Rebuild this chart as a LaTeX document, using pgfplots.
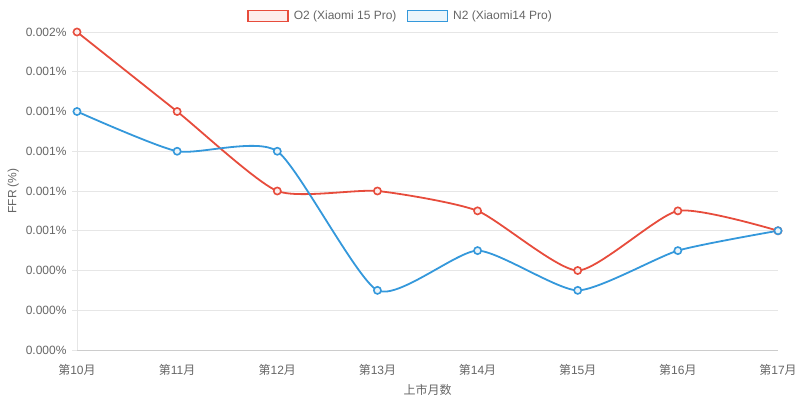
\documentclass[border=0pt]{standalone}
\usepackage{pgfplots}
\pgfplotsset{compat=1.18}
\usepackage{fontspec}
\setmainfont{Liberation Sans}
\newfontfamily\cjk{Noto Sans CJK SC}
\definecolor{txt}{HTML}{666666}
\definecolor{grd}{HTML}{E6E6E6}
\definecolor{axl}{HTML}{CCCCCC}
\definecolor{red1}{HTML}{E74C3C}
\definecolor{blue1}{HTML}{3498DB}
\definecolor{redf}{HTML}{FDEDEC}
\definecolor{bluef}{HTML}{EBF5FB}
\begin{document}
\begin{tikzpicture}[x=1pt,y=1pt]
\path[use as bounding box] (0,0) rectangle (800,401);
\begin{axis}[
  at={(77pt,51pt)}, anchor=south west,
  scale only axis, width=701pt, height=318pt,
  xmin=0, xmax=7, ymin=0, ymax=0.0016,
  scaled y ticks=false,
  xtick={0,1,2,3,4,5,6,7},
  xticklabels={{\cjk 第}10{\cjk 月},{\cjk 第}11{\cjk 月},{\cjk 第}12{\cjk 月},{\cjk 第}13{\cjk 月},{\cjk 第}14{\cjk 月},{\cjk 第}15{\cjk 月},{\cjk 第}16{\cjk 月},{\cjk 第}17{\cjk 月}},
  ytick={0,0.0002,0.0004,0.0006,0.0008,0.001,0.0012,0.0014,0.0016},
  yticklabels={0.000\%,0.000\%,0.000\%,0.001\%,0.001\%,0.001\%,0.001\%,0.001\%,0.002\%},
  ymajorgrids, grid style={grd, line width=0.8pt},
  axis x line*=bottom, axis y line*=left,
  x axis line style={axl, line width=0.8pt, -},
  y axis line style={grd, line width=0.8pt, -},
  xtick style={draw=none},
  ytick style={grd, line width=0.8pt},
  tick align=outside, major tick length=5pt,
  tick label style={txt, font=\fontsize{12}{14}\selectfont},
  xticklabel style={yshift=-6pt},
  yticklabel style={xshift=-2pt},
  xlabel={{\cjk 上市月数}},
  ylabel={FFR (\%)},
  label style={txt, font=\fontsize{12}{14}\selectfont},
  xlabel style={yshift=-2pt},
  ylabel style={yshift=0pt},
  legend columns=2,
  legend style={at={(0.5,1)}, anchor=center, xshift=-27pt, yshift=16pt, draw=none, fill=none,
    font=\fontsize{12}{14}\selectfont, text=txt,
    /tikz/every odd column/.append style={column sep=3pt},
    /tikz/every even column/.append style={column sep=8pt}},
  clip=false,
]
\addplot[red1, line width=1.8pt, smooth, tension=0.36,
  mark=*, mark size=3.6pt, mark options={fill=redf, draw=red1, line width=1.6pt},
  legend image code/.code={\draw[red1, line width=1.6pt, fill=redf] (0pt,-5.5pt) rectangle (40pt,5.5pt);}]
  coordinates {(0,0.0016) (1,0.0012) (2,0.0008) (3,0.0008) (4,0.0007) (5,0.0004) (6,0.0007) (7,0.0006)};
\addlegendentry{O2 (Xiaomi 15 Pro)}
\addplot[blue1, line width=1.8pt, smooth, tension=0.36,
  mark=*, mark size=3.6pt, mark options={fill=bluef, draw=blue1, line width=1.6pt},
  legend image code/.code={\draw[blue1, line width=1.6pt, fill=bluef] (0pt,-5.5pt) rectangle (40pt,5.5pt);}]
  coordinates {(0,0.0012) (1,0.0010) (2,0.0010) (3,0.0003) (4,0.0005) (5,0.0003) (6,0.0005) (7,0.0006)};
\addlegendentry{N2 (Xiaomi14 Pro)}
\end{axis}
\end{tikzpicture}
\end{document}
